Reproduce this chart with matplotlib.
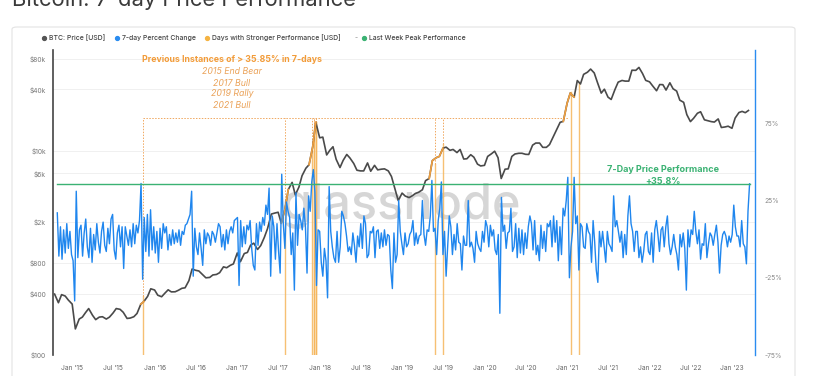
import matplotlib
matplotlib.use("Agg")
import matplotlib.pyplot as plt
from matplotlib.lines import Line2D
from matplotlib.patches import FancyBboxPatch
import numpy as np
import pandas as pd

plt.rcParams['font.family'] = ['Inter', 'DejaVu Sans']

# BTC price, 1st and 15th of each month (USD)
price_2014 = [395, 325, 390, 378, 345]
price_2015 = [315, 180, 225, 235, 260, 285, 245, 222, 235, 237, 225, 235,
              258, 285, 280, 262, 228, 230, 237, 255, 315, 335, 375, 445]
price_2016 = [433, 385, 372, 402, 435, 415, 416, 430, 450, 455, 535, 695,
              675, 665, 610, 570, 575, 608, 615, 640, 730, 715, 755, 780]
price_2017 = [998, 820, 985, 1010, 1190, 1245, 1080, 1180, 1420, 1725, 2400, 2450,
              2500, 1950, 2720, 4170, 4900, 3700, 4400, 5700, 6750, 7300, 10900, 19000]
price_2018 = [13400, 13600, 9100, 10100, 10950, 8250, 6850, 8050, 9200, 8500, 7500, 6450,
              6350, 6350, 7600, 6300, 7200, 6500, 6600, 6650, 6350, 5600, 4200, 3250]
price_2019 = [3850, 3600, 3480, 3620, 3820, 3920, 4150, 5100, 5350, 8000, 8550, 8800,
              10600, 10850, 10100, 10300, 9600, 10300, 8300, 8350, 9150, 8650, 7400, 7100]
price_2020 = [7200, 8800, 9350, 9900, 8550, 5350, 6600, 6650, 8800, 9300, 9450, 9450,
              9230, 9200, 11350, 11900, 11900, 10800, 10800, 11500, 13800, 16000, 19000, 19400]
price_2021 = [29300, 36800, 33500, 48700, 45100, 56000, 58800, 63100, 57800, 46800, 36700, 40100,
              33500, 31800, 39900, 47000, 48800, 48100, 48100, 61500, 61300, 65500, 57000, 48900]
price_2022 = [47300, 43100, 38700, 44500, 44400, 39300, 46300, 40500, 38400, 31300, 29800, 22600,
              19300, 20800, 23300, 24100, 20100, 19700, 19300, 19100, 20500, 16900, 17100, 17400]
price_2023 = [16600, 20900, 23700, 24300, 23600, 24800]

# 7-day percent change, weekly (Mondays) from 27 Oct 2014
pct_2014 = [17, -11, 8, -13, 6, -9, 10, -6, 5, -10]
pct_2015 = [-14, -40, 31, -12, 6, 9, -11, 4, 13, -5, -12, 7, -15, 3, -7, 10, -2, -9,
            5, 11, -4, -8, 7, -3, 13, 16, -7, -13, 4, 9, -5, 8, -19, 8, 2, -4,
            6, -5, 10, -3, 9, 4, 12, 36, -26, 14, -8, 16, -11, 19, -7, 8]
pct_2016 = [-9, 5, -15, 7, -6, 10, 4, 8, -7, 3, -4, 6, -3, 4, -2, 6, -4, 5,
            3, 9, 10, 13, 16, 31, -24, 7, -5, -10, 4, -6, -17, 6, -3, 4, 2, -4,
            5, 3, -2, 4, 10, 8, -5, 3, -7, 6, -3, 5, 8, 4, 12, 13]
pct_2017 = [14, -30, 12, -5, 8, -3, 9, 6, 12, -6, -17, -20, 10, -4, 11, 5, 14, 9,
            22, 16, 33, -24, 15, 8, -13, 10, -8, -22, 42, 10, -6, 24, 18, 14, -10, 4,
            -33, 30, -4, 16, 12, 6, 20, 8, -22, 28, 18, 37, 45, 30, -30, 6]
pct_2018 = [5, -15, -24, -6, -14, -38, 34, 5, -5, -12, -15, 5, -15, -5, 18, 15, 10, 2,
            -8, -5, -10, 4, -4, -15, 2, -5, 10, -6, 15, 10, -12, -10, 5, 4, 8, -12,
            5, 6, -6, 4, -5, 6, -4, 3, 2, -20, -32, 4, -15, -10, 25, 5, -3]
pct_2019 = [-10, 4, -5, -3, 3, 5, 12, -4, 4, -3, 2, 3, 25, 3, -4, 6, 5, 15,
            38, 5, 7, -10, 12, 20, 37, -10, 5, -24, -5, 15, 8, -10, 3, -7, 10, -2,
            -3, -20, 2, -4, -4, 25, -5, -2, -6, -15, 5, -3, -6, -8, 5, -2]
pct_2020 = [12, 8, -5, 9, 2, 6, -7, -10, 3, -48, 27, 5, 9, -6, 4, 5, 20, -8,
            -5, 10, -12, 7, -9, 6, -10, 4, -6, 8, 15, 10, -7, 12, -10, -4, -14, 9,
            -6, 5, -8, 10, 8, 12, -5, 15, -2, 12, -14, 8, -10, 20, 15, 25]
pct_2021 = [40, -25, -5, 5, 40, 10, 15, -20, 10, 8, -5, -6, 10, 5, 3, -15, 12, -2,
            -20, -28, 5, -5, 5, -5, -15, 5, -3, -5, -8, 28, 8, 12, 5, -2, 5, -12,
            3, -10, 15, 28, 10, 5, -8, 5, 5, -12, -5, -15, -8, 3, 5, -8]
pct_2022 = [-10, 4, -15, 6, 12, 3, -8, 6, 8, -5, 8, 15, -3, -10, -5, 3, -5, -10,
            -20, 3, -5, 4, -6, -33, 6, -5, 6, 3, 18, 5, -3, 6, -13, -3, -4, 10,
            -12, -3, 4, 2, -4, 3, 9, -2, -22, -4, 3, 5, 2, -5, 2, -2]
pct_2023 = [3, 22, 8, 2, 2, -5, 12, -3, -5, -16, 18, 35.8]

# days with a 7-day move stronger than the latest one
event_dates = ['2015-11-10', '2017-08-02', '2017-11-29', '2017-12-07', '2017-12-08',
               '2017-12-16', '2017-12-17', '2019-05-25', '2019-07-03', '2021-01-18', '2021-02-22']
event_prices = [380, 2900, 10000, 16000, 16500, 19300, 19000, 7500, 11700, 38000, 47000]
orange_windows = [('2015-11-01', '2015-11-15'), ('2017-07-15', '2017-08-15'),
                  ('2017-11-15', '2017-12-15'), ('2019-05-01', '2019-07-01'),
                  ('2020-12-15', '2021-02-01')]
peak_value = 35.8
bracket_price = 21000

price = np.array(price_2014 + price_2015 + price_2016 + price_2017 + price_2018 +
                 price_2019 + price_2020 + price_2021 + price_2022 + price_2023, dtype=float)
pct = np.array(pct_2014 + pct_2015 + pct_2016 + pct_2017 + pct_2018 +
               pct_2019 + pct_2020 + pct_2021 + pct_2022 + pct_2023, dtype=float)
price_dates = pd.date_range('2014-10-15', periods=len(price), freq='SMS')
pct_dates = pd.date_range('2014-10-27', periods=len(pct), freq='7D')
ev_dates = pd.to_datetime(event_dates)

W, H = 813, 376
fig = plt.figure(figsize=(W / 100, H / 100), dpi=100)

# panel card
fig.add_artist(FancyBboxPatch((12 / W, -0.1), (795 - 12) / W, 1.1 - 27 / H,
                              boxstyle='round,pad=0,rounding_size=0.006',
                              transform=fig.transFigure, fc='white', ec='#e3e3e3', lw=0.8,
                              zorder=-5))

fig.text(12 / W, 1 - 6 / H, 'Bitcoin: 7-day Price Performance', fontsize=15.8,
         color='#3a3a3a', va='baseline', ha='left')

# legend row
legend_items = [(44, '#555555', 'BTC: Price [USD]'),
                (117, '#2a8cf0', '7-day Percent Change'),
                (207, '#f5b342', 'Days with Stronger Performance [USD]'),
                (364, '#3bb273', 'Last Week Peak Performance')]
ly = 1 - 38 / H
for x, c, label in legend_items:
    fig.add_artist(Line2D([x / W], [ly], marker='o', ms=2.8, color=c, lw=0,
                          transform=fig.transFigure))
    fig.text((x + 4.5) / W, ly, label, fontsize=4.95, color='#444444', va='center', ha='left',
             fontweight='medium')
fig.text(356 / W, ly, '-', fontsize=4.8, color='#888888', va='center', ha='center')

ax = fig.add_axes([53 / W, 1 - 355 / H, (755 - 53) / W, (355 - 50) / H])
ax.patch.set_alpha(0)
ax.set_yscale('log')
ax.set_ylim(100, 97000)
ax.set_xlim(pd.Timestamp('2014-10-08'), pd.Timestamp('2023-04-13'))

left_ticks = [100, 400, 800, 2000, 6000, 10000, 40000, 80000]
left_labels = ['$100', '$400', '$800', '$2k', '$6k', '$10k', '$40k', '$80k']
ax.set_yticks(left_ticks)
ax.set_yticklabels(left_labels)
ax.yaxis.set_minor_locator(matplotlib.ticker.NullLocator())
ax.grid(axis='y', color='#eeeeee', lw=0.6)
ax.set_axisbelow(True)

xt = pd.date_range('2015-01-01', '2023-01-01', freq='6MS')
ax.set_xticks(xt)
ax.set_xticklabels([("Jan" if d.month == 1 else "Jul") + " '" + d.strftime('%y') for d in xt])
ax.tick_params(axis='x', length=0, labelsize=4.8, labelcolor='#666666', pad=7)
ax.tick_params(axis='y', length=0, labelsize=4.8, labelcolor='#777777', pad=5)
for s in ['top', 'right', 'bottom']:
    ax.spines[s].set_visible(False)
ax.spines['left'].set_color('#444444')
ax.spines['left'].set_linewidth(1.2)

# watermark
ax.text(0.497, 0.49, 'glassnode', transform=ax.transAxes, fontsize=35, color='#d6d6d6',
        ha='center', va='center', zorder=0, fontweight='medium')

# stronger-performance bars and connectors
for d, p in zip(ev_dates, event_prices):
    ax.plot([d, d], [100, p], color='#f5b55a', lw=1.0, alpha=0.85, zorder=2)
    if p < bracket_price:
        ax.plot([d, d], [p, bracket_price], color='#f0a860', lw=0.7, ls=(0, (1.5, 1.5)), zorder=2)
ax.plot([ev_dates[0], pd.Timestamp('2021-01-05')], [bracket_price, bracket_price],
        color='#f0a860', lw=0.7, ls=(0, (1.5, 1.5)), zorder=2)

ax.plot(price_dates, price, color='#4a4a4a', lw=1.2, zorder=3)
for a, b in orange_windows:
    m = (price_dates >= pd.Timestamp(a)) & (price_dates <= pd.Timestamp(b))
    ax.plot(price_dates[m], price[m], color='#f0a040', lw=1.2, zorder=4)

ax2 = ax.twinx()
ax2.set_ylim(-75, 122.4)
ax2.set_yticks([-75, -25, 25, 75])
ax2.set_yticklabels(['-75%', '-25%', '25%', '75%'])
ax2.tick_params(axis='y', length=0, labelsize=4.8, labelcolor='#888888', pad=7)
for s in ['top', 'left', 'bottom']:
    ax2.spines[s].set_visible(False)
ax2.spines['right'].set_color('#2a8cf0')
ax2.spines['right'].set_linewidth(1.0)

ax2.plot(pct_dates, pct, color='#1f86ee', lw=1.0, zorder=3)
ax2.plot([pct_dates[0], pct_dates[-1]], [peak_value, peak_value], color='#3bb273', lw=1.0, zorder=4)

# annotations
fig.text(232 / W, 1 - 60 / H, 'Previous Instances of > 35.85% in 7-days', fontsize=6.3,
         fontweight='bold', color='#f29b38', ha='center', va='center')
for i, line in enumerate(['2015 End Bear', '2017 Bull', '2019 Rally', '2021 Bull']):
    fig.text(232 / W, 1 - (72 + 11 * i) / H, line, fontsize=6.3, style='italic',
             color='#eba35a', ha='center', va='center')
fig.text(663 / W, 1 - 170 / H, '7-Day Price Performance', fontsize=6.5, fontweight='bold',
         color='#3bb273', ha='center', va='center')
fig.text(663 / W, 1 - 181 / H, '+' + str(peak_value) + '%', fontsize=6.5, fontweight='bold',
         color='#3bb273', ha='center', va='center')

fig.savefig('out.png', dpi=100)
